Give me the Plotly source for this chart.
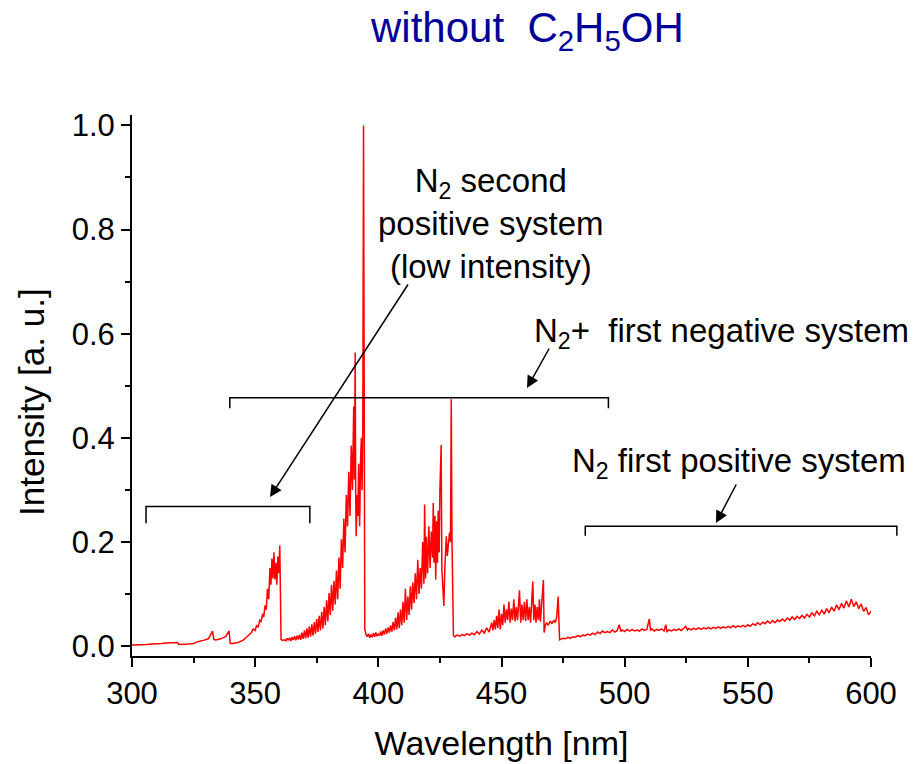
import plotly.graph_objects as go

# ---- spectrum: (wavelength nm, intensity a.u.) ----
seg_sps = [  # 300-362 nm : N2 second positive region
    (300, 0.002), (302, 0.002), (304, 0.003), (306, 0.003), (308, 0.004), (310, 0.004),
    (312, 0.005), (314, 0.006), (316, 0.006), (318, 0.007), (318.5, 0.007), (319, 0.003),
    (321, 0.003), (323, 0.004), (325, 0.005), (327, 0.009), (329, 0.011), (331, 0.014),
    (332.7, 0.029), (333.2, 0.013), (334, 0.012), (336, 0.014), (338, 0.018), (339.4, 0.029),
    (339.9, 0.005), (341, 0.005), (343, 0.007), (345, 0.011), (346.5, 0.017), (347.5, 0.022),
    (348.5, 0.026), (349.2, 0.033), (350, 0.030), (350.6, 0.040), (351.2, 0.036), (351.9, 0.051),
    (352.4, 0.046), (353, 0.062), (353.5, 0.056), (354, 0.078), (354.5, 0.070), (355, 0.110),
    (355.5, 0.090), (356, 0.150), (356.4, 0.118), (356.8, 0.168), (357.2, 0.130), (357.6, 0.180),
    (358.0, 0.128), (358.4, 0.160), (358.8, 0.118), (359.2, 0.172), (359.6, 0.140), (360.0, 0.193),
    (360.3, 0.040), (360.5, 0.013), (361, 0.011),
]

seg_fns1 = [  # 362-395 nm : N2+ (0-0) band with the strong heads
    (362.0, 0.012), (362.5, 0.010), (363.0, 0.015), (363.5, 0.011), (364.0, 0.016), (364.5, 0.010),
    (365.0, 0.017), (365.5, 0.012), (366.0, 0.019), (366.5, 0.011), (367.0, 0.020), (367.5, 0.013),
    (368.0, 0.022), (368.5, 0.012), (369.0, 0.026), (369.5, 0.014), (370.0, 0.030), (370.5, 0.015),
    (371.0, 0.034), (371.5, 0.016), (372.0, 0.038), (372.5, 0.018), (373.0, 0.042), (373.5, 0.020),
    (374.0, 0.046), (374.5, 0.024), (375.0, 0.052), (375.5, 0.027), (376.0, 0.058), (376.5, 0.030),
    (377.0, 0.066), (377.5, 0.034), (378.0, 0.075), (378.5, 0.040), (379.0, 0.088), (379.5, 0.048),
    (380.0, 0.102), (380.5, 0.060), (381.0, 0.118), (381.5, 0.068), (382.0, 0.125), (382.5, 0.080),
    (383.0, 0.145), (383.5, 0.090), (384.0, 0.170), (384.5, 0.110), (385.0, 0.205), (385.5, 0.150),
    (386.0, 0.245), (386.5, 0.180), (387.0, 0.290), (387.5, 0.230), (388.0, 0.335), (388.5, 0.250),
    (389.0, 0.385), (389.5, 0.300), (390.0, 0.460), (390.3, 0.320), (390.6, 0.564), (390.8, 0.300),
    (391.0, 0.211), (391.4, 0.290), (391.7, 0.250), (392.0, 0.350), (392.4, 0.230), (392.8, 0.360),
    (393.1, 0.400), (393.4, 0.300), (393.7, 0.420), (394.0, 1.000), (394.3, 0.100), (394.5, 0.032),
    (395.0, 0.022),
]

seg_fns2 = [  # 395-431 nm : N2+ (0-1) band
    (395.5, 0.018), (396.0, 0.024), (396.5, 0.016), (397.0, 0.022), (397.5, 0.017), (398.0, 0.025),
    (398.5, 0.018), (399.0, 0.026), (399.5, 0.019), (400.0, 0.024), (400.5, 0.020), (401.0, 0.028),
    (401.5, 0.020), (402.0, 0.030), (402.5, 0.022), (403.0, 0.034), (403.5, 0.024), (404.0, 0.036),
    (404.5, 0.026), (405.0, 0.040), (405.5, 0.028), (406.0, 0.046), (406.5, 0.030), (407.0, 0.055),
    (407.5, 0.032), (408.0, 0.065), (408.5, 0.035), (409.0, 0.070), (409.5, 0.040), (410.0, 0.085),
    (410.5, 0.045), (411.0, 0.110), (411.5, 0.050), (412.0, 0.095), (412.5, 0.060), (413.0, 0.115),
    (413.5, 0.070), (414.0, 0.122), (414.5, 0.083), (415.0, 0.140), (415.5, 0.090), (416.0, 0.166),
    (416.5, 0.100), (417.0, 0.150), (417.5, 0.110), (418.0, 0.200), (418.5, 0.120), (418.8, 0.272),
    (419.2, 0.130), (419.5, 0.210), (420.0, 0.140), (420.5, 0.230), (421.0, 0.150), (421.5, 0.220),
    (422.0, 0.170), (422.3, 0.275), (422.6, 0.160), (423.0, 0.250), (423.3, 0.128), (423.7, 0.240),
    (424.0, 0.160), (424.3, 0.260), (424.7, 0.180), (425.0, 0.300), (425.5, 0.386), (425.8, 0.147),
    (426.2, 0.110), (426.6, 0.077), (427.0, 0.150), (427.3, 0.200), (427.6, 0.211), (428.0, 0.173),
    (428.4, 0.200), (428.9, 0.218), (429.3, 0.200), (429.6, 0.474), (429.9, 0.200), (430.2, 0.022),
]

seg_fns3 = [  # 430-474 nm : N2+ (0-2) band and the step at 473 nm
    (430.5, 0.020), (431, 0.018), (432, 0.021), (433, 0.019), (434, 0.022), (435, 0.020),
    (436, 0.024), (437, 0.021), (438, 0.025), (439, 0.022), (440, 0.028), (441, 0.023),
    (442, 0.031), (443, 0.025), (444, 0.035), (445, 0.027), (446, 0.045), (446.5, 0.030),
    (447, 0.050), (447.5, 0.032), (448, 0.058), (448.5, 0.035), (449, 0.070), (449.5, 0.032),
    (450, 0.062), (450.5, 0.040), (451, 0.080), (451.5, 0.045), (452, 0.070), (452.5, 0.050),
    (453, 0.085), (453.5, 0.045), (454, 0.072), (454.5, 0.050), (455, 0.090), (455.5, 0.048),
    (456, 0.075), (456.5, 0.050), (457.3, 0.107), (457.8, 0.045), (458.3, 0.080), (458.8, 0.050),
    (459.3, 0.085), (459.8, 0.048), (460.3, 0.090), (460.8, 0.050), (461.3, 0.075), (461.8, 0.045),
    (462.3, 0.090), (462.7, 0.124), (463.1, 0.050), (463.6, 0.080), (464.0, 0.045), (464.5, 0.075),
    (465.0, 0.050), (465.4, 0.090), (465.8, 0.047), (466.3, 0.085), (467.0, 0.127), (467.3, 0.026),
    (467.8, 0.040), (468.3, 0.045), (469.0, 0.040), (469.8, 0.048), (470.5, 0.043), (471.2, 0.050),
    (471.8, 0.045), (472.4, 0.055), (473.0, 0.095), (473.3, 0.050), (473.6, 0.012),
]

seg_fps = [  # 474-600 nm : N2 first positive region
    (474, 0.013), (475, 0.015), (476, 0.014), (477, 0.017), (478, 0.015), (479, 0.018),
    (480, 0.017), (481, 0.020), (482, 0.018), (483, 0.021), (484, 0.020), (485, 0.023),
    (486, 0.021), (487, 0.025), (488, 0.022), (489, 0.027), (490, 0.024), (491, 0.029),
    (492, 0.026), (493, 0.028), (494, 0.026), (495, 0.031), (496, 0.027), (497, 0.030),
    (497.8, 0.041), (498.5, 0.028), (499, 0.031), (500, 0.028), (501, 0.032), (502, 0.029),
    (503, 0.032), (504, 0.029), (505, 0.031), (506, 0.029), (507, 0.033), (508, 0.030),
    (509, 0.032), (510, 0.052), (510.5, 0.030), (511, 0.033), (512, 0.029), (513, 0.032),
    (514, 0.030), (515, 0.033), (516, 0.029), (516.7, 0.041), (517.2, 0.028), (518, 0.031),
    (519, 0.029), (520, 0.032), (521, 0.030), (522, 0.033), (523, 0.030), (524.8, 0.038),
    (525.5, 0.031), (526, 0.034), (527, 0.031), (528, 0.034), (529, 0.032), (530, 0.035),
    (531, 0.032), (532, 0.035), (533, 0.033), (534, 0.036), (535, 0.033), (536, 0.036),
    (537, 0.034), (538, 0.037), (539, 0.034), (540, 0.037), (541, 0.035), (542, 0.038),
    (543, 0.035), (544, 0.039), (545, 0.036), (546, 0.039), (547, 0.037), (548, 0.040),
    (549, 0.037), (550, 0.041), (551, 0.038), (552, 0.043), (553, 0.040), (554, 0.045),
    (555, 0.041), (556, 0.046), (557, 0.043), (558, 0.048), (559, 0.044), (560, 0.049),
    (561, 0.045), (562, 0.050), (563, 0.047), (564, 0.052), (565, 0.048), (566, 0.054),
    (567, 0.050), (568, 0.056), (569, 0.051), (570, 0.057), (571, 0.053), (572, 0.059),
    (573, 0.054), (574, 0.061), (575, 0.056), (576, 0.064), (577, 0.058), (578, 0.067),
    (579, 0.060), (580, 0.069), (581, 0.062), (582, 0.072), (583, 0.064), (584, 0.075),
    (585, 0.067), (586, 0.079), (587, 0.070), (588, 0.082), (589, 0.073), (590, 0.087),
    (591, 0.075), (592, 0.090), (593, 0.076), (594, 0.085), (595, 0.072), (596, 0.081),
    (597, 0.067), (598, 0.074), (599, 0.060), (600, 0.067),
]

# ---- annotation brackets in data units: (left nm, right nm, bar level, end level) ----
brackets = [
    (305.7, 372.2, 0.268, 0.236),   # N2 second positive
    (339.7, 493.4, 0.477, 0.457),   # N2+ first negative
    (484.0, 610.5, 0.230, 0.212),   # N2 first positive
]

x_range = [300, 600]
y_range = [-0.019, 1.02]

spectrum = seg_sps + seg_fns1 + seg_fns2 + seg_fns3 + seg_fps
wl = [p[0] for p in spectrum]
inten = [p[1] for p in spectrum]

FONT = "Liberation Sans, Arial, sans-serif"

fig = go.Figure()
fig.add_trace(go.Scatter(x=wl, y=inten, mode="lines",
                         line=dict(color="#ff0000", width=1.5), showlegend=False))


def xp(v):
    return (v - x_range[0]) / (x_range[1] - x_range[0])


for (a, b, lev, end) in brackets:
    fig.add_shape(type="path", xref="paper", yref="y",
                  path=f"M {xp(a)} {end} L {xp(a)} {lev} L {xp(b)} {lev} L {xp(b)} {end}",
                  line=dict(color="black", width=1.5))

# plot area in pixels (for placing labels)
L, R, T, B = 132, 48, 115, 108
W, H = 919, 764
PW, PH = W - L - R, H - T - B


def px(xpix):
    return (xpix - L) / PW


def py(ypix):
    return (H - B - ypix) / PH


txt = dict(family=FONT, size=33, color="black")
fig.add_annotation(text="N<sub>2</sub> second<br>positive system<br>(low intensity)",
                   xref="paper", yref="paper", x=px(491), y=py(223),
                   xanchor="center", yanchor="middle", showarrow=False, font=txt, align="center")
fig.add_annotation(text="N<sub>2</sub>+&nbsp;&nbsp;first negative system",
                   xref="paper", yref="paper", x=px(532), y=py(333),
                   xanchor="left", yanchor="middle", showarrow=False, font=txt)
fig.add_annotation(text="N<sub>2</sub> first positive system",
                   xref="paper", yref="paper", x=px(570), y=py(463),
                   xanchor="left", yanchor="middle", showarrow=False, font=txt)

# arrows: (tip x, tip y, tail x, tail y) in pixels
for (tx, ty, sx, sy) in [(270, 497, 409, 283), (527, 388, 550, 347), (716, 523, 737, 483)]:
    fig.add_annotation(text="", xref="paper", yref="paper", x=px(tx), y=py(ty),
                       ax=sx - tx, ay=sy - ty, showarrow=True, arrowhead=2,
                       arrowsize=1.6, arrowwidth=1.5, arrowcolor="black", standoff=0)

fig.add_annotation(text="without&nbsp;&nbsp;C<sub>2</sub>H<sub>5</sub>OH",
                   xref="paper", yref="paper", x=px(527), y=py(30),
                   xanchor="center", yanchor="middle", showarrow=False,
                   font=dict(family=FONT, size=42, color="#000099"))

# y-axis title placed as rotated text
fig.add_annotation(text="Intensity [a. u.]", textangle=-90,
                   xref="paper", yref="paper", x=px(31), y=py(402),
                   xanchor="center", yanchor="middle", showarrow=False,
                   font=dict(family=FONT, size=35, color="black"))

axis_common = dict(showline=True, linecolor="black", linewidth=2, ticks="outside",
                   ticklen=9, tickwidth=2, tickcolor="black", showgrid=False, zeroline=False,
                   tickfont=dict(family=FONT, size=31, color="black"))

fig.update_xaxes(range=x_range, tick0=300, dtick=50,
                 minor=dict(dtick=25, ticks="outside", ticklen=5, tickwidth=2, tickcolor="black"),
                 title=dict(text="Wavelength [nm]", font=dict(family=FONT, size=34, color="black"),
                            standoff=21),
                 **axis_common)
fig.update_yaxes(range=y_range, tick0=0, dtick=0.2, tickformat=".1f",
                 minor=dict(dtick=0.1, ticks="outside", ticklen=5, tickwidth=2, tickcolor="black"),
                 **axis_common)

fig.update_layout(width=W, height=H, margin=dict(l=L, r=R, t=T, b=B, autoexpand=False),
                  paper_bgcolor="white", plot_bgcolor="white", showlegend=False)

fig.write_html("out.html")
